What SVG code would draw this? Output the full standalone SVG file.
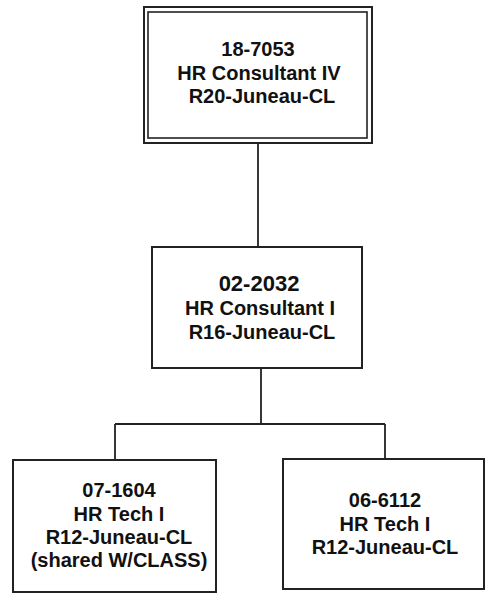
<svg xmlns="http://www.w3.org/2000/svg" width="487" height="597" viewBox="0 0 487 597">
<style>
.box{fill:#fff;stroke:#222;stroke-width:2}
.dbl{fill:none;stroke:#222;stroke-width:1.6}
.t{font-family:"Liberation Sans",Arial,sans-serif;font-weight:bold;font-size:20px;fill:#111;text-anchor:middle}
.big{font-size:22px}
.c{fill:none;stroke:#222;stroke-width:1.8}
</style>
<rect width="487" height="597" fill="#fff"/>
<g id="connectors">
<path class="c" d="M258,143 V247"/>
<path class="c" d="M261,368 V424 M115,424 H385 M115,424 V460 M385,424 V459"/>
</g>
<g id="n1">
<rect class="box" x="144" y="7" width="228" height="136"/>
<rect class="dbl" x="148" y="12" width="219" height="126"/>
<text class="t" x="258" y="56">18-7053</text>
<text class="t" x="259" y="80">HR Consultant IV</text>
<text class="t" x="262" y="103">R20-Juneau-CL</text>
</g>
<g id="n2">
<rect class="box" x="152" y="247" width="210" height="121"/>
<text class="t big" x="259" y="291">02-2032</text>
<text class="t" x="260" y="315">HR Consultant I</text>
<text class="t" x="262" y="339">R16-Juneau-CL</text>
</g>
<g id="n3">
<rect class="box" x="13" y="460" width="203" height="132"/>
<text class="t" x="119" y="497">07-1604</text>
<text class="t" x="119" y="521">HR Tech I</text>
<text class="t" x="119" y="544">R12-Juneau-CL</text>
<text class="t" x="119" y="567">(shared W/CLASS)</text>
</g>
<g id="n4">
<rect class="box" x="283" y="459" width="201" height="130"/>
<text class="t" x="385" y="507">06-6112</text>
<text class="t" x="385" y="531">HR Tech I</text>
<text class="t" x="385" y="554">R12-Juneau-CL</text>
</g>
</svg>
